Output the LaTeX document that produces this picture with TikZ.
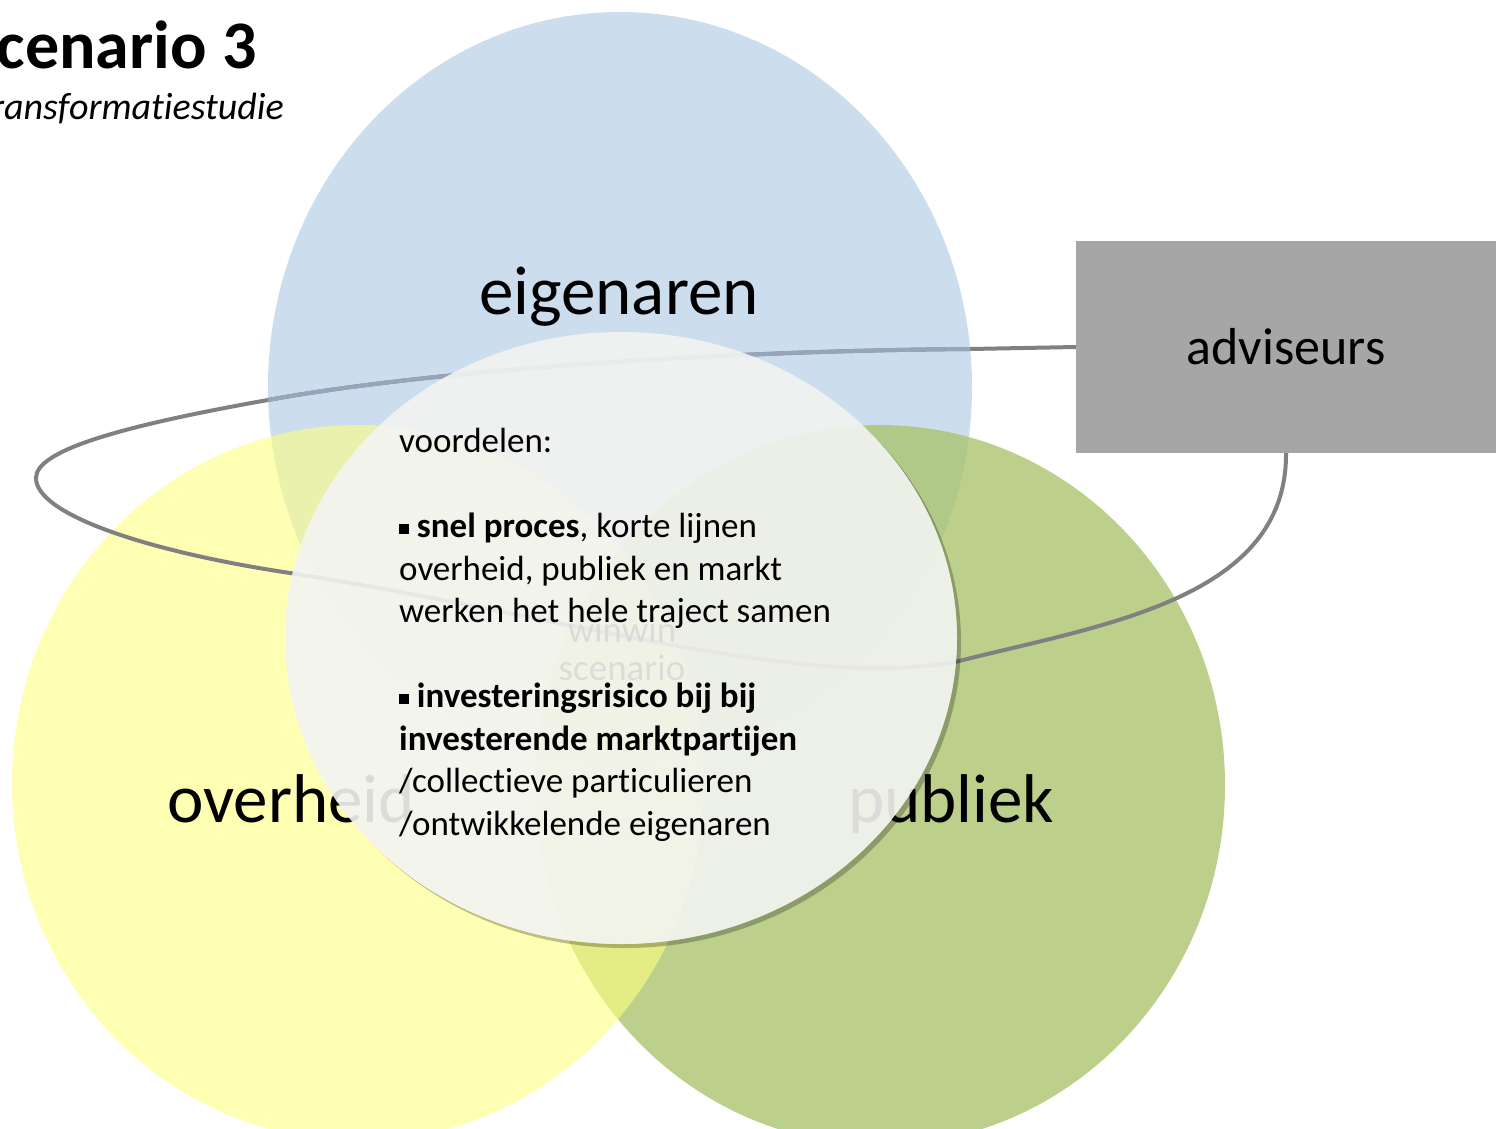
\documentclass[tikz,border=0pt]{standalone}
\usepackage{fontspec}
\setmainfont{Carlito}[Ligatures=NoCommon]
\usetikzlibrary{shapes.geometric}
\definecolor{eigblue}{RGB}{204,221,238}
\definecolor{pubgreen}{RGB}{171,196,111}
\definecolor{ovhyellow}{RGB}{255,255,130}
\definecolor{advgray}{RGB}{166,166,166}
\definecolor{loopgray}{RGB}{128,128,128}
\definecolor{loopblue}{RGB}{150,165,185}
\definecolor{winwhite}{RGB}{243,244,241}
\newcommand{\sqbul}{\rule[0.1em]{0.28em}{0.28em}\ }
\tikzset{
  venn/.style={ellipse, inner sep=0pt},
  biglabel/.style={font=\fontsize{69}{80}\selectfont, inner sep=0pt},
  loopline/.style={line width=4pt, draw=loopgray},
}
\begin{document}
  \begin{tikzpicture}[x=1pt, y=-1pt]
    \useasboundingbox (0,0) rectangle (1496,1128);
    \clip (0,0) rectangle (1496,1128);
    \node[venn, fill=eigblue, minimum width=704pt, minimum height=750pt] at (620,387) (eig) {};
    \node[venn, fill=pubgreen, fill opacity=0.8, minimum width=690pt, minimum height=720pt] at (880,785) (pub) {};
    \node[venn, fill=ovhyellow, fill opacity=0.6, minimum width=692pt, minimum height=716pt] at (358,783) (ovh) {};
    \node[fill=advgray, minimum width=420pt, minimum height=212pt, inner sep=0pt, font=\fontsize{52}{62}\selectfont] at (1286,347) (adv) {adviseurs};
    \draw[loopline] (adv.west) -- (970,349) .. controls (700,351) and (420,372) .. (268,400)
      .. controls (110,428) and (36,452) .. (36,478) .. controls (36,515) and (150,552) .. (290,573)
      .. controls (560,615) and (800,690) .. (955,662) .. controls (1100,625) and (1287,600) .. (adv.south);
    \begin{scope}
      \clip (620,387) ellipse [x radius=352, y radius=375];
      \draw[loopline, draw=loopblue] (adv.west) -- (970,349) .. controls (700,351) and (420,372) .. (268,400)
        .. controls (110,428) and (36,452) .. (36,478);
    \end{scope}
    \node[biglabel, anchor=base] at (619,314) (eiglabel) {eigenaren};
    \node[biglabel, anchor=base west] at (167,822) (ovhlabel) {overheid};
    \node[biglabel, anchor=base west] at (848,822) (publabel) {publiek};
    \node[anchor=base, inner sep=0pt, font=\fontsize{37}{38}\selectfont] at (622,642) (winwin) {winwin};
    \node[anchor=base, inner sep=0pt, font=\fontsize{37}{38}\selectfont] at (622,680) (scen) {scenario};
    \begin{scope}[even odd rule]
      \clip (0,0) rectangle (1496,1128) (621,638) ellipse [x radius=336, y radius=306];
      \fill[black, opacity=0.25] (625,642) ellipse [x radius=336, y radius=306];
    \end{scope}
    \node[venn, fill=winwhite, fill opacity=0.9, minimum width=672pt, minimum height=612pt] at (621,638) (win) {};
    \node[anchor=north west, inner sep=0pt, align=left, font=\fontsize{35}{42.5}\selectfont] at (399,428) (voordelen) {voordelen:\\[42.5pt]
      \sqbul\textbf{snel proces}, korte lijnen\\
      overheid, publiek en markt\\
      werken het hele traject samen\\[42.5pt]
      \sqbul\textbf{investeringsrisico bij bij}\\
      \textbf{investerende marktpartijen}\\
      /collectieve particulieren\\
      /ontwikkelende eigenaren};
    \node[anchor=base east, inner sep=0pt, font=\fontsize{68}{80}\selectfont\bfseries] at (257,68) (title) {Scenario 3};
    \node[anchor=base east, inner sep=0pt, font=\fontsize{38}{44}\selectfont\itshape] at (284,119) (subtitle) {transformatiestudie};
  \end{tikzpicture}
\end{document}
